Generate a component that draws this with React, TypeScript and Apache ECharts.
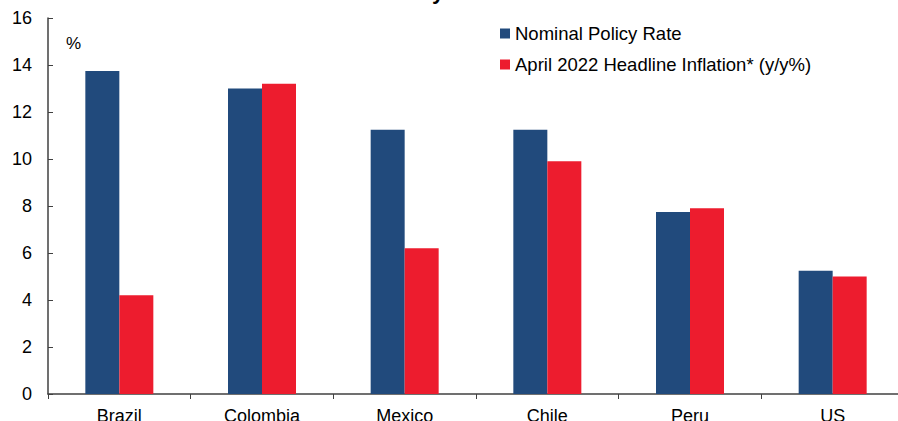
import React, { useEffect, useRef } from "react";
import * as echarts from "echarts";

const categories = ["Brazil", "Colombia", "Mexico", "Chile", "Peru", "US"];
const policyRate = [13.75, 13.0, 11.25, 11.25, 7.75, 5.25];
const inflation = [4.2, 13.2, 6.2, 9.9, 7.9, 5.0];
const seriesNames = ["Nominal Policy Rate", "April 2022 Headline Inflation* (y/y%)"];

export default function App() {
  const ref = useRef<HTMLDivElement>(null);
  useEffect(() => {
    if (!ref.current) return;
    const chart = echarts.init(ref.current, null, { renderer: "svg" });
    const font = "Arial, 'Liberation Sans', sans-serif";
    chart.setOption({
      animation: false,
      textStyle: { fontFamily: font },
      grid: { left: 48, top: 18, height: 376, width: 856, containLabel: false, outerBoundsMode: "none" },
      legend: {
        left: 500,
        top: 24,
        padding: 0,
        orient: "vertical",
        icon: "rect",
        itemWidth: 10,
        itemHeight: 10,
        itemGap: 12,
        textStyle: { fontSize: 18.5, color: "#000", fontFamily: font },
        data: seriesNames,
      },
      graphic: [
        { type: "text", left: 66, top: 35, style: { text: "%", fontSize: 17, fill: "#000", fontFamily: font } },
        { type: "text", x: 432, y: 2, style: { text: "y", fontSize: 22, fontWeight: "bold", fill: "#000", fontFamily: font, verticalAlign: "bottom" } },
      ],
      xAxis: {
        type: "category",
        data: categories,
        axisLine: { lineStyle: { color: "#404040", width: 1.5 } },
        axisTick: { show: true, inside: false, length: 5, alignWithLabel: false, lineStyle: { color: "#404040" } },
        axisLabel: { fontSize: 18, color: "#000", margin: 13, fontFamily: font },
      },
      yAxis: {
        type: "value",
        min: 0,
        max: 16,
        interval: 2,
        splitLine: { show: false },
        axisLine: { show: true, lineStyle: { color: "#404040", width: 1.5 } },
        axisTick: { show: true, inside: true, length: 5, lineStyle: { color: "#404040" } },
        axisLabel: { fontSize: 18, color: "#000", margin: 16, fontFamily: font },
      },
      series: [
        { name: seriesNames[0], type: "bar", data: policyRate, barWidth: 34, barGap: "0%", itemStyle: { color: "#214A7C" } },
        { name: seriesNames[1], type: "bar", data: inflation, barWidth: 34, barGap: "0%", itemStyle: { color: "#ED1C2E" } },
      ],
    });
    return () => chart.dispose();
  }, []);
  return <div ref={ref} style={{ width: 898, height: 421, position: "absolute", left: 0, top: 0 }} />;
}
